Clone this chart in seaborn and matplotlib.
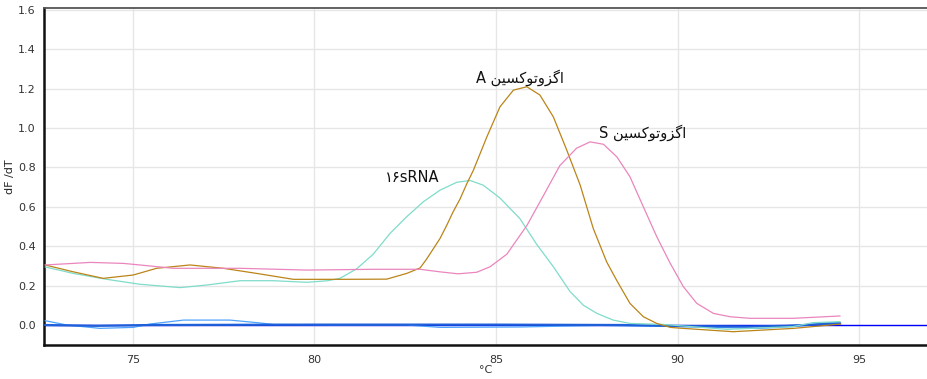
import matplotlib
matplotlib.use("Agg")
import matplotlib.pyplot as plt
import pandas as pd
import seaborn as sns

# ---------------- data ----------------
exoA_t = [72.58, 73.36, 74.18, 75.01, 75.65, 76.57, 77.49, 78.41, 79.42, 80.70,
          81.99, 82.54, 82.91, 83.09, 83.46, 83.64, 83.82, 84.01, 84.19, 84.38,
          84.75, 85.11, 85.48, 85.85, 86.21, 86.58, 86.95, 87.32, 87.68, 88.05,
          88.33, 88.69, 89.06, 89.43, 89.80, 90.07, 91.53, 93.20, 94.50]
exoA_v = [0.305, 0.270, 0.237, 0.254, 0.288, 0.305, 0.288, 0.262, 0.232, 0.232,
          0.233, 0.262, 0.290, 0.335, 0.440, 0.505, 0.575, 0.640, 0.715, 0.787,
          0.956, 1.108, 1.193, 1.210, 1.168, 1.057, 0.888, 0.710, 0.490, 0.320,
          0.225, 0.110, 0.042, 0.008, -0.012, -0.016, -0.034, -0.017, 0.005]

exoS_t = [72.58, 73.36, 73.82, 74.73, 75.19, 76.11, 77.95, 79.79, 81.62, 82.91,
          83.46, 83.96, 84.47, 84.84, 85.30, 85.85, 86.30, 86.76, 87.22, 87.59,
          87.96, 88.33, 88.69, 89.06, 89.43, 89.80, 90.16, 90.53, 90.99, 91.45,
          92.00, 93.18, 93.73, 94.48]
exoS_v = [0.305, 0.313, 0.318, 0.313, 0.305, 0.288, 0.288, 0.279, 0.283, 0.283,
          0.270, 0.260, 0.268, 0.296, 0.360, 0.505, 0.655, 0.810, 0.898, 0.930,
          0.918, 0.854, 0.753, 0.600, 0.448, 0.313, 0.195, 0.110, 0.059, 0.042,
          0.034, 0.034, 0.039, 0.046]

rna_t = [72.58, 73.36, 74.28, 75.19, 76.30, 77.03, 77.95, 78.87, 79.79, 80.37,
         80.70, 81.16, 81.62, 82.08, 82.54, 83.00, 83.46, 83.92, 84.29, 84.65,
         85.11, 85.66, 86.12, 86.58, 87.04, 87.41, 87.78, 88.23, 88.69, 89.60,
         91.36, 93.18, 93.73, 94.48]
rna_v = [0.295, 0.262, 0.232, 0.207, 0.190, 0.203, 0.225, 0.225, 0.217, 0.225,
         0.237, 0.285, 0.360, 0.465, 0.550, 0.626, 0.685, 0.725, 0.734, 0.710,
         0.645, 0.540, 0.410, 0.296, 0.170, 0.100, 0.059, 0.025, 0.008, 0.003,
         -0.022, -0.008, 0.012, 0.017]

neg1_t = [72.58, 73.18, 74.09, 75.01, 75.47, 76.39, 77.67, 78.41, 78.87, 80.70,
          82.54, 83.46, 85.66, 87.86, 90.07, 92.27, 93.18, 94.11, 94.48]
neg1_v = [0.022, 0.000, -0.017, -0.012, 0.005, 0.025, 0.025, 0.012, 0.003, 0.000,
          0.000, -0.012, -0.010, -0.002, -0.008, -0.017, -0.008, 0.012, 0.012]

neg2_t = [72.58, 74.00, 75.50, 80.00, 85.00, 88.50, 90.00, 92.00, 93.00, 94.48]
neg2_v = [0.000, -0.004, 0.000, 0.002, 0.002, 0.000, -0.005, -0.008, -0.004, 0.008]

series_names = ["neg1", "neg2", "rna", "exoA", "exoS"]
series_colors = {"neg1": "#4da3ff", "neg2": "#1f5fd8", "rna": "#7fdcca",
                 "exoA": "#bb8418", "exoS": "#ea86bd"}

x_ticks = [75, 80, 85, 90, 95]
y_ticks = [0.0, 0.2, 0.4, 0.6, 0.8, 1.0, 1.2, 1.4, 1.6]

exo_word = "اگزوتوکسین"
label_A = "A"
label_S = "S"
label_rna = "۱۶sRNA"

# ---------------- minimal Persian shaping (matplotlib has no shaper) ----------------
FORMS = {  # isolated, final, initial, medial
    "ا": ("\uFE8D", "\uFE8E", None, None),
    "گ": ("\uFB92", "\uFB93", "\uFB94", "\uFB95"),
    "ز": ("\uFEAF", "\uFEB0", None, None),
    "و": ("\uFEED", "\uFEEE", None, None),
    "ت": ("\uFE95", "\uFE96", "\uFE97", "\uFE98"),
    "ک": ("\uFB8E", "\uFB8F", "\uFB90", "\uFB91"),
    "س": ("\uFEB1", "\uFEB2", "\uFEB3", "\uFEB4"),
    "ی": ("\uFBFC", "\uFBFD", "\uFBFE", "\uFBFF"),
    "ن": ("\uFEE5", "\uFEE6", "\uFEE7", "\uFEE8"),
}


def shape_rtl(word):
    out = []
    for i, ch in enumerate(word):
        f = FORMS.get(ch)
        if f is None:
            out.append(ch)
            continue
        prev = word[i - 1] if i > 0 else None
        nxt = word[i + 1] if i + 1 < len(word) else None
        jp = prev in FORMS and FORMS[prev][2] is not None
        jn = f[2] is not None and nxt in FORMS
        if jp and jn:
            out.append(f[3])
        elif jp:
            out.append(f[1])
        elif jn:
            out.append(f[2])
        else:
            out.append(f[0])
    return "".join(reversed(out))


# ---------------- build long-form table ----------------
rows = []
for name, ts, vs in [("neg1", neg1_t, neg1_v), ("neg2", neg2_t, neg2_v),
                     ("rna", rna_t, rna_v), ("exoA", exoA_t, exoA_v),
                     ("exoS", exoS_t, exoS_v)]:
    for t, v in zip(ts, vs):
        rows.append({"T": t, "dFdT": v, "series": name})
df = pd.DataFrame(rows)

sns.set_style("white")
plt.rcParams["font.family"] = ["DejaVu Sans"]

fig = plt.figure(figsize=(9.28, 3.79), dpi=100)
ax = fig.add_axes([44 / 928, 1 - 345 / 379, 1 - 44 / 928, (345 - 8) / 379])

ax.axhline(0, color="#0000ff", lw=1.0, zorder=1)
sns.lineplot(data=df, x="T", y="dFdT", hue="series", hue_order=series_names,
             palette=series_colors, estimator=None, sort=True, legend=False,
             ax=ax, zorder=3)
for line in ax.lines[1:]:
    line.set_linewidth(0.9)
ax.lines[2].set_linewidth(1.6)

ax.set_xlim(72.55, 96.9)
ax.set_ylim(-0.1015, 1.61)
ax.set_xticks(x_ticks)
ax.set_yticks(y_ticks)
ax.set_yticklabels([f"{v:.1f}" for v in y_ticks])
ax.grid(True, color="#e6e6e6", lw=1.0, zorder=0)
ax.set_axisbelow(True)
ax.tick_params(axis="both", direction="out", length=3, width=1, color="#999999",
               labelsize=8, labelcolor="#333333", pad=3)
ax.tick_params(axis="x", pad=4)

ax.spines["left"].set_color("#111111")
ax.spines["left"].set_linewidth(1.8)
ax.spines["bottom"].set_color("#111111")
ax.spines["bottom"].set_linewidth(1.8)
ax.spines["top"].set_color("#555555")
ax.spines["top"].set_linewidth(1.3)
ax.spines["right"].set_visible(False)

ax.set_xlabel("°C", fontsize=8, color="#333333", labelpad=0)
ax.set_ylabel("dF /dT", fontsize=8, color="#222222", labelpad=2)

txt_kw = dict(ha="center", va="center", fontsize=10.5, color="#111111", zorder=5)
ax.text(85.66, 1.254, f"{label_A} {shape_rtl(exo_word)}", **txt_kw)
ax.text(89.04, 0.975, f"{label_S} {shape_rtl(exo_word)}", **txt_kw)
ax.text(82.70, 0.751, label_rna, **txt_kw)

fig.savefig("out.png", dpi=100)
